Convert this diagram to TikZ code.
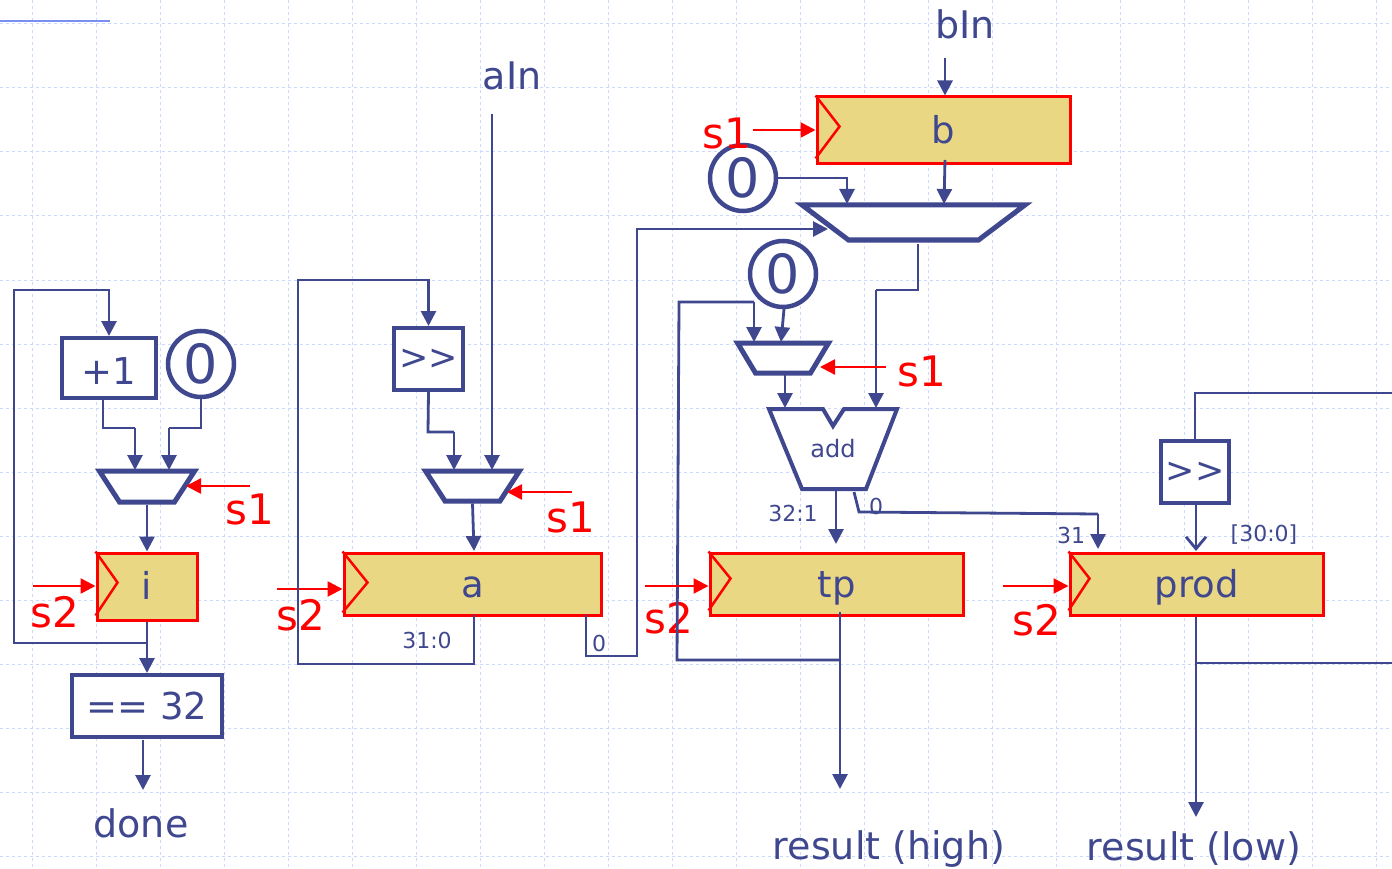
\documentclass[tikz,border=0pt]{standalone}
\usepackage{fontspec}
\setmainfont{DejaVu Sans}
\usetikzlibrary{shapes.geometric,arrows.meta}
\definecolor{navy}{HTML}{3F478F}
\definecolor{gold}{HTML}{EAD783}
\definecolor{gridblue}{HTML}{CCD9FF}
\definecolor{ruleblue}{HTML}{7A90F0}
\newcommand{\fs}[1]{\fontsize{#1}{#1}\selectfont}
\begin{document}
\begin{tikzpicture}[%
 x=1pt,y=-1pt,
 wire/.style={
 	draw=navy,
 	line width=2.8pt
 },
 bus/.style={
 	wire,
 	-{Triangle[length=15pt,width=15pt]}
 },
 ctrl/.style={
 	draw=red,
 	line width=2.6pt,
 	-{Triangle[length=15pt,width=15pt]}
 },
 reg/.style={
 	rectangle,
 	draw=red,
 	line width=3pt,
 	fill=gold,
 	text=navy,
 	inner sep=0pt,
 	text height=26pt,
 	text depth=0pt,
 	font=\fs{37}
 },
 box/.style={
 	rectangle,
 	draw=navy,
 	line width=4pt,
 	fill=white,
 	text=navy,
 	inner sep=0pt,
 	font=\fs{37}
 },
 zero/.style={
 	circle,
 	draw=navy,
 	line width=4.5pt,
 	fill=white,
 	text=navy,
 	minimum size=66pt,
 	inner sep=0pt,
 	font=\fs{54}
 },
 mux/.style={
 	trapezium,
 	shape border rotate=180,
 	draw=navy,
 	line width=5pt,
 	fill=white,
 	inner sep=0pt,
 	text depth=0pt
 },
 lbl/.style={
 	text=navy,
 	inner sep=0pt,
 	font=\fs{38}
 },
 tag/.style={
 	text=navy,
 	inner sep=0pt,
 	font=\fs{22}
 },
 sig/.style={
 	text=red,
 	inner sep=0pt,
 	font=\fs{42}
 }
 ]
\useasboundingbox (0,0) rectangle (1392,869);
% grid of the slide
\foreach \gx in {32,96,...,1376} \draw[gridblue,line width=1pt,dashed] (\gx,0) -- (\gx,869);
\foreach \gy in {24,88,...,856} \draw[gridblue,line width=1pt,dashed] (0,\gy) -- (1392,\gy);
\coordinate (ruleL) at (0,21.5);
\coordinate (ruleR) at (110,21.5);
\draw[ruleblue,line width=2pt] (ruleL) -- (ruleR);

% counter
\node[box,minimum width=94pt,minimum height=60pt,text height=32pt] (plus) at (109,368) {+1};
\node[zero] (zi) at (201,364) {0};
\node[mux,text width=55pt,text height=31pt,trapezium left angle=57,trapezium right angle=57] (mi) at (147,486.5) {};
\node[reg,minimum width=100pt,minimum height=67pt] (ri) at (147,586.5) {i};
\node[box,minimum width=150pt,minimum height=62pt] (cmp) at (147,706) {== 32};
\node[lbl] (done) at (141,823) {done};
\coordinate (ia) at (135,470);
\coordinate (ib) at (169,470);
\coordinate (ls1i) at (250,486);
\coordinate (rs1i) at (186,486);
\coordinate (ls2i) at (33,586);
\coordinate (cmpOut) at (143,740);
\coordinate (doneIn) at (143,790);
\node[sig] (s1i) at (250,509) {s1};
\node[sig] (s2i) at (55,612) {s2};
\draw[red,line width=2.5pt] (ri.north west) -- ++(22,31) -- ++(-22,33);
\draw[wire] (plus.south -| 103,0) -- (103,428) -- (ia |- 0,428) coordinate (iaTop);
\draw[bus] (iaTop) -- (ia);
\draw[wire] (zi.south) -- (201,428) -- (ib |- 0,428) coordinate (ibTop);
\draw[bus] (ibTop) -- (ib);
\draw[bus] (mi.south) -- (ri.north);
\draw[ctrl] (ls1i) -- (rs1i);
\draw[ctrl] (ls2i) -- (ls2i -| ri.west);
\draw[bus] (ri.south) |- (14,643) |- (109,290) -- (plus.north);
\draw[bus] (ri.south) -- (cmp.north);
\draw[bus] (cmpOut) -- (doneIn);

% multiplier a
\node[box,minimum width=69pt,minimum height=62pt,font=\fs{35}] (sa) at (428.5,359) {>{}>};
\node[mux,text width=55pt,text height=30pt,trapezium left angle=57,trapezium right angle=57] (ma) at (472.5,486) {};
\node[reg,minimum width=257pt,minimum height=62pt] (ra) at (472.5,584) {a};
\node[lbl] (ain) at (512,76) {aIn};
\node[tag] (ta) at (427,640) {31:0};
\node[tag] (tz) at (599,643) {0};
\node[sig] (s1a) at (571,517) {s1};
\node[sig] (s2a) at (301,615) {s2};
\coordinate (aTop) at (492,114);
\coordinate (aIn) at (492,470);
\coordinate (sIn) at (454,470);
\coordinate (ls1a) at (572,492);
\coordinate (rs1a) at (507,492);
\coordinate (ls2a) at (277,589);
\draw[red,line width=2.5pt] (ra.north west) -- ++(25,31) -- ++(-25,30);
\draw[bus] (aTop) -- (aIn);
\draw[wire] (sa.south) -- (428,432) -- (454,432) coordinate (sTop);
\draw[bus] (sTop) -- (sIn);
\draw[bus] (ma.south) -- (474,551);
\draw[ctrl] (ls1a) -- (rs1a);
\draw[ctrl] (ls2a) -- (ls2a -| ra.west);
\draw[bus] (474,615) -- (474,664) -| (298,280) -| (sa.north);

% multiplicand b
\node[reg,minimum width=253pt,minimum height=67pt] (rb) at (943.5,130.5) {b};
\node[zero] (zb) at (743,178) {0};
\node[mux,text width=130pt,text height=35pt,trapezium left angle=37,trapezium right angle=37] (mb) at (913.5,222.5) {};
\node[lbl] (bin) at (965,24) {bIn};
\node[sig] (s1b) at (727,133) {s1};
\coordinate (bTop) at (945,58);
\coordinate (ls1b) at (753,130);
\coordinate (zbIn) at (847,204);
\coordinate (ovrIn) at (828,229);
\draw[red,line width=2.5pt] (rb.north west) -- ++(24,31) -- ++(-24,32);
\draw[bus] (bTop) -- (rb.north -| bTop);
\draw[ctrl] (ls1b) -- (rb.west |- ls1b);
\draw[bus] (zb.east) -| (zbIn);
\draw[bus] (945,160) -- (944,204);
\draw[bus] (586,615) |- (637,656) |- (ovrIn);

% adder
\node[zero] (zt) at (783,274) {0};
\node[mux,text width=55pt,text height=30pt,trapezium left angle=59,trapezium right angle=59] (mt) at (783,358) {};
\node[reg,minimum width=253pt,minimum height=62pt] (rt) at (836.5,584) {tp};
\node[tag] (t321) at (793,513) {32:1};
\node[tag] (t0) at (876,506) {0};
\node[tag] (t31) at (1071,535) {31};
\node[sig] (s1t) at (922,371) {s1};
\node[sig] (s2t) at (669,618) {s2};
\node[lbl] (high) at (889,849) {result (high)};
\coordinate (ls1t) at (886,367);
\coordinate (rs1t) at (820,367);
\coordinate (ls2t) at (645,586);
\coordinate (addA) at (785,408);
\coordinate (addB) at (876,408);
\coordinate (tpIn) at (836,544);
\coordinate (tpOut) at (840,612);
\coordinate (highIn) at (840,789);
\draw[navy,line width=4pt,line join=miter,fill=white] (769,409) -- (823,409) -- (833,426) -- (844,409) -- (897,409) -- (866,489) -- (802,489) -- cycle;
\node[lbl,font=\fs{24}] (addLbl) at (833,449) {add};
\draw[red,line width=2.5pt] (rt.north west) -- ++(22,27) -- ++(-22,32);
\draw[wire] (918,244) |- (876,290) coordinate (outB);
\draw[bus] (outB) -- (addB);
\draw[bus] (784,309) -- (781,342);
\draw[wire] (840,660) -- (677,660) -- (679,302) -- (754,302) coordinate (tpTop);
\draw[bus] (tpTop) -- (754,342);
\draw[bus] (785,375) -- (addA);
\draw[bus] (836,490) -- (tpIn);
\draw[ctrl] (ls1t) -- (rs1t);
\draw[ctrl] (ls2t) -- (ls2t -| rt.west);
\draw[bus] (tpOut) -- (highIn);

% product
\node[reg,minimum width=253pt,minimum height=62pt] (rp) at (1196.5,584) {prod};
\node[box,minimum width=68pt,minimum height=62pt,font=\fs{35}] (sp) at (1195,472) {>{}>};
\node[tag] (t30) at (1264,535) {[30:0]};
\node[sig] (s2p) at (1037,620) {s2};
\node[lbl] (low) at (1194,849) {result (low)};
\coordinate (ls2p) at (1003,586);
\coordinate (lowIn) at (1196,817);
\coordinate (fbR) at (1392,663);
\coordinate (fbT) at (1392,393);
\draw[red,line width=2.5pt] (rp.north west) -- ++(21,27) -- ++(-21,32);
\draw[wire] (854,492) -- (859,512) -- (1098,514) coordinate (lsb);
\draw[bus] (lsb) -- (1098,549);
\draw[ctrl] (ls2p) -- (ls2p -| rp.west);
\draw[wire,-{Straight Barb[length=12pt,width=20pt]}] (sp.south -| 1196,0) -- (1196,551);
\draw[bus] (rp.south -| 1196,0) -- (lowIn);
\draw[wire,line width=2pt] (1196,663) -- (fbR);
\draw[wire,line width=2pt] (sp.north) |- (fbT);
\end{tikzpicture}
\end{document}
